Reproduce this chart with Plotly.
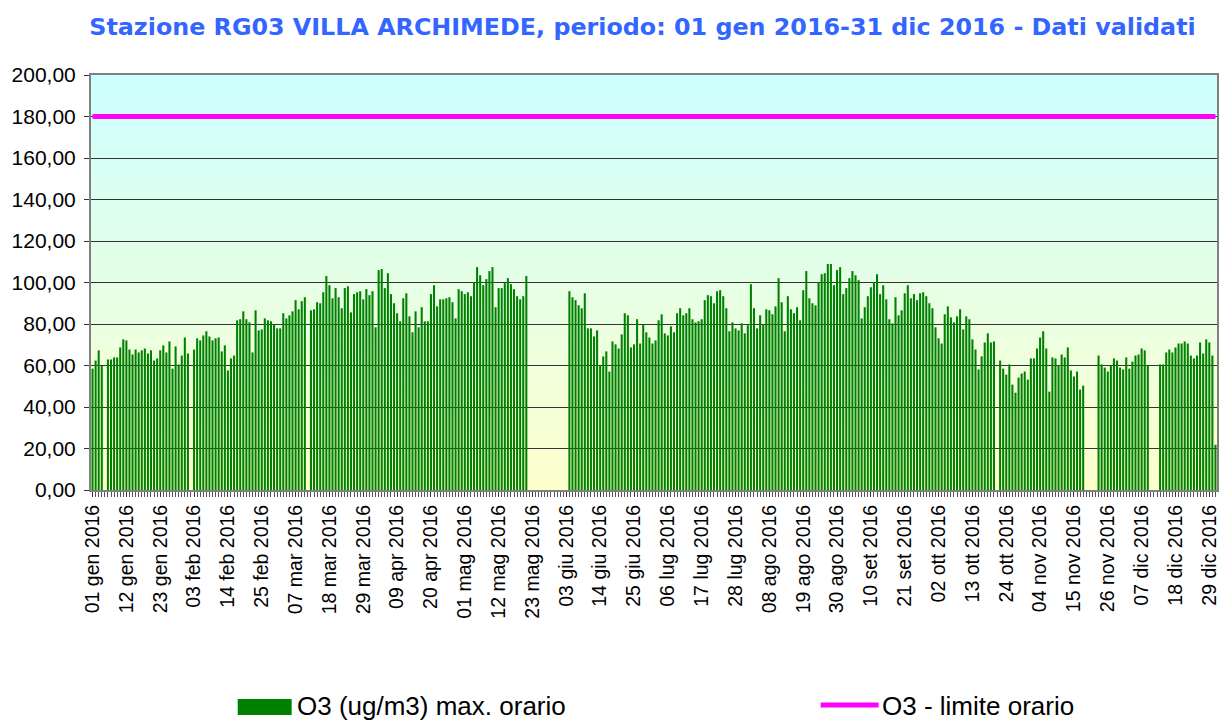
import plotly.graph_objects as go
import pandas as pd

# Daily dates for 2016 (categories)
dates = pd.date_range("2016-01-01", "2016-12-31", freq="D")

# O3 max hourly values (ug/m3); None = no data
o3_jan_feb = [58.5, 62.4, 67.3, 59.8, None, 62.9, 62.9, 63.9, 63.9, 68.7,
              72.6, 72.1, 67.7, 65.3, 67.7, 66.3, 67.3, 68.2, 65.8, 67.3,
              62.4, 63.4, 67.3, 69.7, 66.3, 71.6, 58.5, 69.2, 60.5, 64.8,
              73.5, 65.8, None, 67.7, 73.1, 72.1, 74.5, 76.5, 74.0, 72.1,
              73.1, 73.5, 66.8, 69.7, 57.6, 63.4]
o3_feb_apr = [64.8, 81.8, 82.3, 86.1, 82.3, 80.8, 66.3, 86.6, 76.9, 77.4,
              82.7, 81.8, 81.3, 79.8, 77.9, 77.9, 85.2, 82.7, 84.2, 86.1,
              91.5, 87.1, 91.0, 92.9, None, 86.6, 87.1, 90.5, 90.0, 95.3,
              103.1, 98.7, 92.4, 97.3, 92.9, 87.6, 97.3, 98.2, 85.6, 94.4,
              95.3, 95.8, 91.9, 96.8, 93.9, 95.8]
o3_apr_may = [78.4, 106.0, 106.5, 97.3, 104.5, 94.4, 90.0, 85.2, 81.3, 92.4,
              94.8, 83.7, 76.0, 86.1, 78.4, 88.1, 81.3, 81.3, 94.4, 98.7,
              88.5, 91.9, 91.9, 92.4, 92.9, 90.5, 82.7, 96.8, 95.8, 94.4,
              95.3, 93.4, 100.2, 107.4, 103.5, 98.7, 101.6, 105.5, 107.4, 88.1,
              97.3, 97.3, 99.7, 102.1, 99.2, 96.8]
o3_may_jul = [93.4, 91.9, 93.4, 103.1,
              None, None, None, None, None, None, None, None, None, None,
              None, None, None,
              95.8, 92.9, 91.5, 89.0, 87.6, 94.8, 77.9, 77.9, 74.0, 76.9,
              60.0, 64.4, 66.8, 57.1, 71.6, 70.2, 68.2, 75.0, 85.2, 84.2,
              68.7, 70.2, 82.3, 70.6, 79.8, 76.0, 73.5, 70.6, 72.1]
o3_jul_aug = [81.8, 84.7, 75.5, 74.5, 78.9, 76.0, 85.2, 87.6, 84.2, 85.2,
              87.6, 82.3, 80.8, 81.3, 82.3, 91.5, 93.9, 93.4, 90.0, 95.8,
              96.3, 93.4, 87.6, 76.5, 80.8, 77.9, 76.9, 80.3, 75.5, 79.4,
              99.2, 87.6, 77.9, 84.2, 79.8, 87.1, 86.6, 84.7, 88.5, 102.1,
              90.5, 76.5, 93.4, 87.1, 85.2, 88.1]
o3_aug_oct = [81.8, 96.3, 105.5, 92.4, 90.0, 89.0, 100.2, 104.0, 104.5, 108.9,
              108.9, 98.7, 106.0, 107.4, 94.4, 97.3, 102.1, 105.5, 103.5, 101.1,
              82.7, 88.1, 93.4, 97.7, 99.7, 104.0, 94.4, 98.7, 91.9, 82.3,
              80.3, 92.9, 84.2, 86.6, 94.8, 98.7, 92.4, 94.4, 91.5, 94.8,
              95.3, 93.4, 90.0, 87.6, 78.4, 73.1]
o3_oct_nov = [70.6, 84.7, 88.5, 83.2, 80.8, 83.7, 87.1, 77.4, 83.7, 82.3,
              72.6, 67.7, 58.1, 64.4, 71.1, 75.5, 71.1, 71.6, None, 62.4,
              58.5, 55.6, 60.5, 50.8, 46.9, 54.2, 56.1, 57.1, 53.2, 63.4,
              63.4, 68.2, 73.5, 76.5, 68.2, 47.4, 63.9, 63.4, 60.0, 65.3,
              63.9, 68.7, 57.6, 54.7, 57.1, 48.4]
o3_nov_dec = [50.3, None, None, None, None,
              64.8, 60.5, 59.0, 57.1, 60.0, 63.4, 62.4, 59.0, 58.1, 63.9,
              58.5, 61.9, 64.8, 65.3, 68.2, 67.3, 60.0,
              None, None, None,
              60.5, 60.5, 66.3, 67.7, 66.3, 68.7, 70.6, 70.6, 71.6, 70.6,
              64.8, 63.4, 64.8, 71.1, 65.8, 72.6, 71.1, 64.8, 21.8]

o3_values = (o3_jan_feb + o3_feb_apr + o3_apr_may + o3_may_jul
             + o3_jul_aug + o3_aug_oct + o3_oct_nov + o3_nov_dec)

LIMIT = 180
limit_values = [LIMIT] * len(dates)

MESI = ["gen", "feb", "mar", "apr", "mag", "giu",
        "lug", "ago", "set", "ott", "nov", "dic"]
tick_dates = dates[::11]
tick_labels = [f"{d.day:02d} {MESI[d.month - 1]} {d.year}" for d in tick_dates]

FONT = "Liberation Sans, Arial, sans-serif"

fig = go.Figure()

fig.add_trace(go.Bar(
    x=dates,
    y=o3_values,
    name="O3 (ug/m3) max. orario",
    marker_color="#008000",
    marker_line_width=0,
))

fig.add_trace(go.Scatter(
    x=dates,
    y=limit_values,
    mode="lines",
    name="O3 - limite orario",
    line=dict(color="#FF00FF", width=5),
))

# background gradient: light yellow at the bottom to light cyan at the top
n_steps = 60
shapes = []
for i in range(n_steps):
    t = i / (n_steps - 1)
    r = round(255 + (204 - 255) * t)
    b = round(204 + (255 - 204) * t)
    shapes.append(dict(
        type="rect", xref="x domain", yref="y domain",
        x0=0, x1=1, y0=i / n_steps, y1=(i + 1) / n_steps,
        fillcolor=f"rgb({r},255,{b})", line_width=0, layer="below",
    ))

# legend keys drawn by hand (wide swatches like the original)
shapes.append(dict(type="rect", xref="paper", yref="paper",
                   x0=0.1303, x1=0.1782, y0=-0.5422, y1=-0.5036,
                   fillcolor="#008000", line_width=0))
shapes.append(dict(type="line", xref="paper", yref="paper",
                   x0=0.6480, x1=0.6995, y0=-0.5181, y1=-0.5181,
                   line=dict(color="#FF00FF", width=5)))

annotations = [
    dict(text="O3 (ug/m3) max. orario", xref="paper", yref="paper",
         x=0.1820, y=-0.5193, xanchor="left", yanchor="middle",
         showarrow=False, borderpad=0,
         font=dict(family=FONT, size=26, color="black")),
    dict(text="O3 - limite orario", xref="paper", yref="paper",
         x=0.7012, y=-0.5193, xanchor="left", yanchor="middle",
         showarrow=False, borderpad=0,
         font=dict(family=FONT, size=26, color="black")),
]

fig.update_layout(
    width=1221,
    height=720,
    margin=dict(l=91, r=2, t=75, b=230),
    paper_bgcolor="white",
    plot_bgcolor="#E6FFE6",
    separators=",.",
    showlegend=False,
    bargap=0.33,
    font=dict(family=FONT, color="black"),
    title=dict(
        text="<b>Stazione RG03 VILLA ARCHIMEDE, periodo: 01 gen 2016-31 dic 2016 - Dati validati</b>",
        x=0.4898, xref="paper", xanchor="center",
        y=0.9625, yref="container", yanchor="middle",
        font=dict(family="DejaVu Sans, Verdana, sans-serif", size=23.8, color="#3366FF"),
    ),
    shapes=shapes,
    annotations=annotations,
)

fig.update_xaxes(
    range=[dates[0] - pd.Timedelta(hours=12), dates[-1] + pd.Timedelta(hours=12)],
    tickvals=tick_dates,
    ticktext=tick_labels,
    tickangle=-90,
    tickfont=dict(family=FONT, size=19.5, color="black"),
    ticks="outside",
    ticklen=5,
    tickcolor="#333333",
    minor=dict(dtick=86400000, ticks="outside", ticklen=5, tickcolor="#555555",
               showgrid=False),
    showgrid=False,
    showline=True,
    linecolor="#808080",
    linewidth=2,
    mirror=True,
)

fig.update_yaxes(
    range=[0, 200],
    dtick=20,
    tickformat=".2f",
    tickfont=dict(family=FONT, size=21, color="black"),
    ticks="outside",
    ticklen=5,
    tickcolor="#333333",
    ticklabelstandoff=4,
    showgrid=True,
    gridcolor="#333333",
    gridwidth=1,
    zeroline=False,
    showline=True,
    linecolor="#808080",
    linewidth=2,
    mirror=True,
)

# drop the default 8px page margin so the figure fills the window exactly
fig.write_html(
    "out.html",
    config={"displayModeBar": False},
    post_script="document.body.style.margin='0';document.body.style.overflow='hidden';",
)
